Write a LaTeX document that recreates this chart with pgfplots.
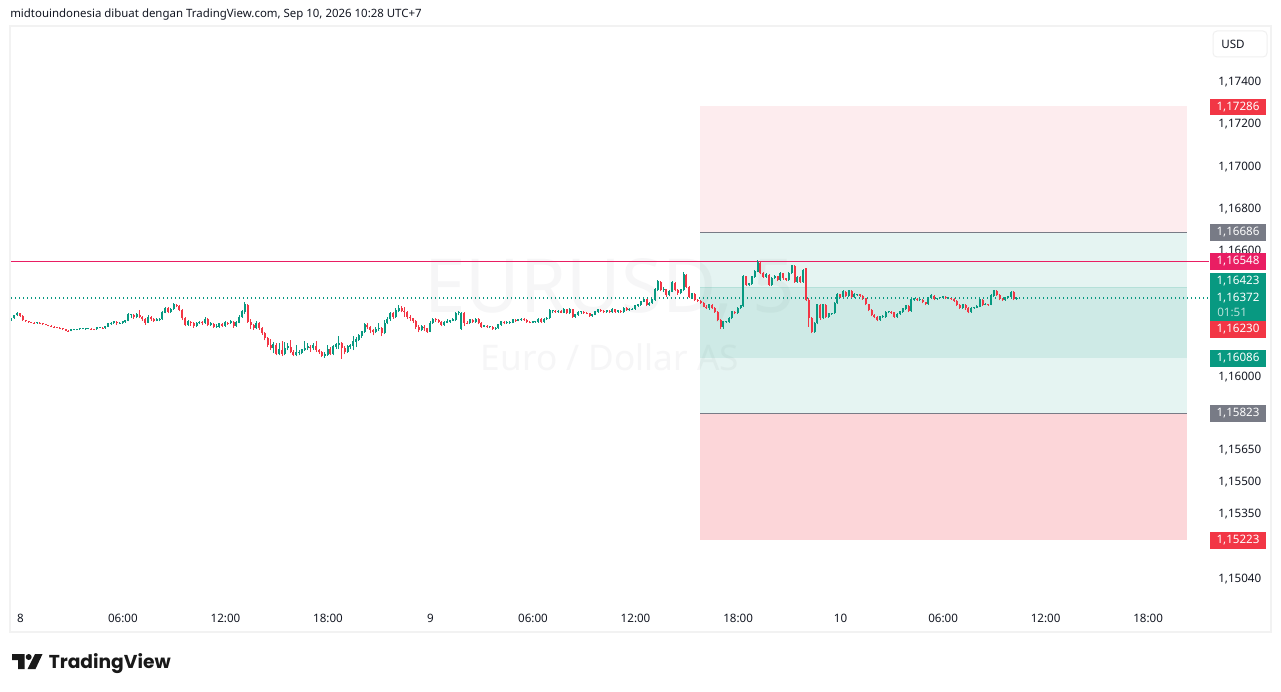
\documentclass[border=0pt]{standalone}
\usepackage{fontspec}
\usepackage{pgfplots}
\usepackage{pgfplotstable}
\pgfplotsset{compat=1.18}
\setmainfont{Noto Sans}
\newfontfamily\logofont{Poppins}
\definecolor{tvG}{HTML}{089981}
\definecolor{tvR}{HTML}{F23645}
\definecolor{tvP}{HTML}{E91E63}
\definecolor{tvGy}{HTML}{787B86}
\definecolor{tvTx}{HTML}{131722}
\definecolor{wm}{HTML}{F6F6F7}
% n = 10-minute step from the 8th 00:00; o h l c = points above 1.16000 (1 = 0.00001)
\pgfplotstableread{
n o h l c
-3 270 280 266 276
-2 276 294 274 291
-1 291 305 289 300
0 300 303 283 287
1 287 290 265 268
2 268 270 261 264
3 264 266 256 259
4 259 261 253 256
5 256 258 250 253
6 253 259 251 256
7 256 258 250 253
8 253 255 247 249
9 249 251 243 245
10 245 247 238 241
11 241 243 235 237
12 237 239 232 234
13 234 236 230 232
14 232 234 227 230
15 230 232 221 224
16 224 226 215 218
17 218 220 212 216
18 216 224 214 221
19 221 225 219 221
20 221 227 219 224
21 224 229 222 226
22 226 229 224 226
23 226 228 223 226
24 226 230 224 227
25 227 229 224 226
26 226 228 220 224
27 224 236 222 232
28 232 236 229 232
29 232 234 227 230
30 230 239 228 236
31 236 253 234 249
32 249 258 247 253
33 253 264 250 259
34 259 262 247 252
35 252 258 250 252
36 252 262 250 259
37 259 270 256 265
38 265 302 262 292
39 292 296 278 292
40 292 296 275 281
41 281 300 276 292
42 292 316 276 284
43 284 288 264 272
44 272 276 245 256
45 256 290 254 281
46 281 286 266 272
47 272 278 258 265
48 265 278 262 272
49 272 276 262 272
50 272 310 270 303
51 303 332 300 324
52 324 332 300 308
53 308 326 304 319
54 319 350 316 340
55 340 345 328 335
56 335 340 310 316
57 316 320 268 276
58 276 282 238 245
59 245 268 240 260
60 260 265 242 253
61 253 258 232 240
62 240 260 236 253
63 253 262 250 257
64 257 262 246 253
65 253 285 250 272
66 272 276 238 245
67 245 258 240 249
68 249 252 230 237
69 237 250 232 237
70 237 256 232 249
71 249 254 234 240
72 240 262 236 256
73 256 260 246 253
74 253 268 250 260
75 260 264 232 240
76 240 262 236 256
77 256 292 252 281
78 281 318 278 308
79 308 355 298 340
80 340 345 255 260
81 260 272 225 245
82 245 250 222 229
83 229 262 225 253
84 253 258 222 229
85 229 234 198 205
86 205 210 172 181
87 181 186 140 150
88 150 180 125 134
89 134 165 110 150
90 150 158 100 107
91 107 160 100 126
92 126 170 97 107
93 107 165 100 134
94 134 160 125 142
95 142 172 110 118
96 118 126 95 102
97 102 150 95 113
98 113 128 100 113
99 113 132 105 126
100 126 170 120 134
101 134 160 125 142
102 142 148 118 134
103 134 158 125 145
104 145 170 118 126
105 126 132 108 115
106 115 120 92 97
107 97 118 90 102
108 102 150 98 129
109 129 138 100 107
110 107 150 100 142
111 142 158 130 150
112 150 192 130 157
113 157 165 84 134
114 134 145 105 118
115 118 150 112 142
116 142 152 130 146
117 146 192 125 165
118 165 188 140 173
119 173 200 168 192
120 192 215 185 213
121 213 252 208 245
122 245 252 225 235
123 235 240 205 221
124 221 225 195 213
125 213 235 205 224
126 224 252 218 229
127 229 235 190 205
128 205 270 200 253
129 253 285 248 272
130 272 305 265 300
131 300 308 275 284
132 284 325 280 313
133 313 340 305 324
134 324 335 305 313
135 313 328 285 308
136 308 312 275 284
137 284 290 265 276
138 276 280 255 265
139 265 270 225 237
140 237 245 210 221
141 221 245 215 237
142 237 245 215 229
143 229 232 208 213
144 213 262 210 253
145 253 278 250 272
146 272 276 260 268
147 268 272 255 260
148 260 264 238 245
149 245 262 242 256
150 256 272 252 260
151 260 270 255 265
152 265 278 262 268
153 268 305 262 300
154 300 310 290 303
155 228 305 221 300
156 300 308 240 256
157 256 262 248 254
158 254 274 250 268
159 268 272 255 260
160 260 278 256 272
161 272 276 248 253
162 253 258 232 237
163 237 246 234 240
164 240 244 230 234
165 234 242 230 237
166 237 240 222 225
167 225 234 222 229
168 229 250 226 245
169 245 265 242 260
170 260 266 248 253
171 253 262 250 256
172 256 262 250 256
173 256 272 252 268
174 268 272 258 265
175 265 272 262 268
176 268 276 264 272
177 272 276 264 268
178 268 272 255 260
179 260 264 252 256
180 256 265 252 260
181 260 266 256 260
182 260 278 256 272
183 272 276 256 260
184 260 276 256 272
185 272 282 268 276
186 276 320 274 313
187 313 318 300 313
188 313 316 302 306
189 306 316 302 310
190 310 314 300 303
191 303 325 300 319
192 319 322 296 300
193 300 325 296 319
194 319 322 280 284
195 284 296 278 292
196 292 310 288 305
197 305 312 298 308
198 308 312 298 303
199 303 308 296 300
200 300 304 283 287
201 287 296 284 292
202 292 312 290 308
203 308 320 304 316
204 316 320 308 313
205 313 316 300 305
206 305 318 302 313
207 313 316 300 305
208 305 324 302 319
209 319 322 304 308
210 308 318 304 313
211 313 316 304 308
212 308 328 304 324
213 324 328 312 316
214 316 324 312 319
215 319 326 316 320
216 320 340 318 335
217 335 345 332 340
218 340 360 336 356
219 356 372 352 367
220 367 370 335 340
221 340 352 336 348
222 348 370 345 363
223 363 420 360 411
224 411 460 405 451
225 451 456 405 411
226 411 425 400 414
227 414 418 380 387
228 387 410 382 403
229 403 452 400 446
230 446 450 405 411
231 411 416 388 395
232 395 418 390 411
233 411 495 405 482
234 482 488 420 427
235 427 432 372 379
236 379 398 370 392
237 392 396 358 363
238 363 368 354 360
239 360 364 345 351
240 351 356 328 332
241 332 338 320 324
242 324 345 318 340
243 340 344 320 324
244 324 328 302 308
245 308 312 262 268
246 268 272 225 233
247 233 264 228 260
248 260 266 255 260
249 260 282 256 276
250 276 312 272 308
251 308 312 295 300
252 300 330 296 324
253 324 340 320 335
254 335 482 332 476
255 476 480 428 435
256 435 445 428 440
257 440 480 436 474
258 474 504 470 498
259 498 552 495 541
260 541 545 485 490
261 490 495 468 474
262 474 490 470 482
263 482 486 430 435
264 435 472 430 466
265 466 482 462 477
266 477 480 452 458
267 458 496 454 490
268 490 494 460 466
269 466 470 452 458
270 458 496 454 490
271 490 532 486 525
272 525 530 445 451
273 451 478 446 471
274 471 476 445 451
275 451 512 446 505
276 514 518 358 363
277 363 371 237 276
278 276 282 205 213
279 213 258 208 253
280 253 345 248 340
281 340 344 270 276
282 276 345 272 340
283 340 344 278 284
284 284 304 280 300
285 300 304 294 300
286 300 352 296 348
287 348 396 344 390
288 390 394 372 379
289 379 410 375 403
290 403 408 378 384
291 384 412 380 406
292 406 410 372 379
293 379 395 375 390
294 390 394 384 390
295 390 394 380 384
296 384 388 365 371
297 371 375 338 343
298 343 346 310 316
299 316 320 286 292
300 292 296 278 284
301 284 288 262 268
302 268 288 265 284
303 284 290 278 284
304 284 310 280 305
305 305 312 300 308
306 308 312 298 305
307 305 308 280 284
308 284 300 280 295
309 295 312 292 308
310 308 325 304 321
311 321 342 318 337
312 337 340 305 311
313 311 368 308 363
314 363 372 360 368
315 368 372 358 362
316 362 366 358 363
317 363 366 348 352
318 352 356 338 343
319 343 376 340 371
320 371 390 368 384
321 384 388 362 368
322 368 374 365 371
323 371 378 368 375
324 375 383 372 379
325 379 382 367 371
326 371 376 367 371
327 371 374 364 368
328 368 371 354 359
329 359 362 335 340
330 340 344 320 324
331 324 346 320 340
332 340 344 318 324
333 324 328 300 305
334 305 330 302 324
335 324 332 322 327
336 327 338 325 332
337 332 370 328 363
338 363 368 336 340
339 340 348 338 343
340 343 346 335 340
341 340 390 338 384
342 384 412 380 406
343 406 410 382 387
344 387 390 362 368
345 368 372 358 363
346 363 380 360 375
347 375 384 372 379
348 379 406 376 400
349 400 404 362 368
350 368 378 365 372
}\candles
\newcommand{\tl}{\fontsize{8.7}{10}\selectfont}
\tikzset{badge/.style={fill=#1,text=white,inner sep=0pt,minimum width=42pt,minimum height=12.4pt,font=\tl}}
\pgfplotsset{candle/.style={draw=none,no markers,forget plot,restrict x to domain=-10:500}}
\begin{document}
\begin{tikzpicture}
\begin{scope}[x=0.75pt,y=-0.75pt]
\path[use as bounding box,fill=white] (0,0) rectangle (1281,692);
\draw[color=black!5,line width=1.5pt] (10,26) rectangle (1271,632);
\node[anchor=west,inner sep=0pt,text=tvTx,font=\fontsize{8.58}{10}\selectfont] at (10,15) {midtouindonesia dibuat dengan TradingView.com, Sep 10, 2026 10:28 UTC+7};
\node[inner sep=0pt,text=wm,font=\fontsize{55.9}{60}\selectfont] at (610,290) {EURUSD, 5};
\node[inner sep=0pt,text=wm,font=\fontsize{26.4}{30}\selectfont] at (610,357) {Euro / Dollar AS};
\end{scope}
\begin{axis}[
  at={(8.25pt,-473.25pt)},anchor=south west,scale only axis,
  width=898.5pt,height=453.75pt,
  xmin=-3.16,xmax=417.5,ymin=1.147896,ymax=1.176664,
  axis line style={draw=none},major tick length=0pt,
  scaled y ticks=false,
  xtick={0,36,72,108,144,180,216,252,288,324,360,396},
  xticklabels={\textbf{8},06:00,12:00,18:00,\textbf{9},06:00,12:00,18:00,\textbf{10},06:00,12:00,18:00},
  xticklabel style={font=\tl,text=tvTx,anchor=center,yshift=9.75pt,xshift=.3pt,inner sep=0pt},
  ytick={1.174,1.172,1.170,1.168,1.166,1.160,1.1565,1.155,1.1535,1.1504},
  yticklabels={{1,17400},{1,17200},{1,17000},{1,16800},{1,16600},{1,16000},{1,15650},{1,15500},{1,15350},{1,15040}},
  yticklabel pos=right,
  yticklabel style={font=\tl,text=tvTx,anchor=west,xshift=6.75pt,yshift=-.3pt,inner sep=0pt},
]
\addplot[fill=tvR,fill opacity=.09,draw=none,forget plot] coordinates {(238.8,1.16686)(409.8,1.16686)(409.8,1.17286)(238.8,1.17286)} --cycle;
\addplot[fill=tvG,fill opacity=.1,draw=none,forget plot] coordinates {(238.8,1.15823)(409.8,1.15823)(409.8,1.16686)(238.8,1.16686)} --cycle;
\addplot[fill=tvG,fill opacity=.1,draw=none,forget plot] coordinates {(238.8,1.16086)(409.8,1.16086)(409.8,1.16423)(238.8,1.16423)} --cycle;
\addplot[fill=tvR,fill opacity=.2,draw=none,forget plot] coordinates {(238.8,1.15223)(409.8,1.15223)(409.8,1.15823)(238.8,1.15823)} --cycle;
\addplot[tvGy,line width=.75pt,forget plot] coordinates {(238.8,1.16686)(409.8,1.16686)};
\addplot[tvGy,line width=.75pt,forget plot] coordinates {(238.8,1.15823)(409.8,1.15823)};
\addplot[color=tvG,opacity=.12,line width=.75pt,forget plot] coordinates {(238.8,1.16423)(409.8,1.16423)};
\addplot[tvP,line width=.75pt,forget plot] coordinates {(-3.16,1.16548)(417.5,1.16548)};
\addplot[tvG,line width=1.1pt,dash pattern=on 1pt off 2pt,forget plot] coordinates {(-3.16,1.16372)(417.5,1.16372)};
% wicks and bodies, up candles then down candles
\addplot[candle,error bars/.cd,y dir=plus,y explicit,error mark=none,error bar style={draw=tvG,line width=.75pt}]
  table[x expr={ifthenelse(\thisrow{c}>=\thisrow{o},\thisrow{n},-99)},y expr={1.16+\thisrow{l}/100000},y error plus expr={(\thisrow{h}-\thisrow{l})/100000}] {\candles};
\addplot[candle,error bars/.cd,y dir=plus,y explicit,error mark=none,error bar style={draw=tvR,line width=.75pt}]
  table[x expr={ifthenelse(\thisrow{c}<\thisrow{o},\thisrow{n},-99)},y expr={1.16+\thisrow{l}/100000},y error plus expr={(\thisrow{h}-\thisrow{l})/100000}] {\candles};
\addplot[candle,error bars/.cd,y dir=plus,y explicit,error mark=none,error bar style={draw=tvG,line width=1.5pt}]
  table[x expr={ifthenelse(\thisrow{c}>=\thisrow{o},\thisrow{n},-99)},y expr={1.16+\thisrow{o}/100000},y error plus expr={(\thisrow{c}-\thisrow{o}+3)/100000}] {\candles};
\addplot[candle,error bars/.cd,y dir=plus,y explicit,error mark=none,error bar style={draw=tvR,line width=1.5pt}]
  table[x expr={ifthenelse(\thisrow{c}<\thisrow{o},\thisrow{n},-99)},y expr={1.16+\thisrow{c}/100000},y error plus expr={(\thisrow{o}-\thisrow{c})/100000}] {\candles};
\end{axis}
\begin{scope}[x=0.75pt,y=-0.75pt]
\draw[color=black!6,fill=white,line width=.75pt,rounded corners=3pt] (1213,31) rectangle (1267,57);
\node[font=\tl,text=tvTx,inner sep=0pt] at (1233,44.5) {USD};
\node[badge=tvR] at (1238,107) {1,17286};
\node[badge=tvGy] at (1238,232.5) {1,16686};
\node[badge=tvP] at (1238,261.5) {1,16548};
\fill[tvG] (1210,273) rectangle (1266,321.5);
\node[font=\tl,text=white,inner sep=0pt] at (1238,281) {1,16423};
\node[font=\tl,text=white,inner sep=0pt] at (1238,298) {1,16372};
\node[font=\tl,text=white!70!tvG,inner sep=0pt,anchor=west] at (1217,312) {01:51};
\node[badge=tvR] at (1238,329.5) {1,16230};
\node[badge=tvG] at (1238,358.5) {1,16086};
\node[badge=tvGy] at (1238,413.5) {1,15823};
\node[badge=tvR] at (1238,540.5) {1,15223};
% TradingView logo
\fill[black!90] (12,654) -- (24.5,654) -- (24.5,669) -- (18,669) -- (18,660) -- (12,660) -- cycle;
\fill[black!90] (28.7,657) circle (3);
\fill[black!90] (35,654) -- (42.5,654) -- (35.5,669) -- (27.5,669) -- cycle;
\node[anchor=west,inner sep=0pt,text=black!90,font=\logofont\bfseries\fontsize{14}{17}\selectfont] at (48.5,663.5) {TradingView};
\end{scope}
\end{tikzpicture}
\end{document}
